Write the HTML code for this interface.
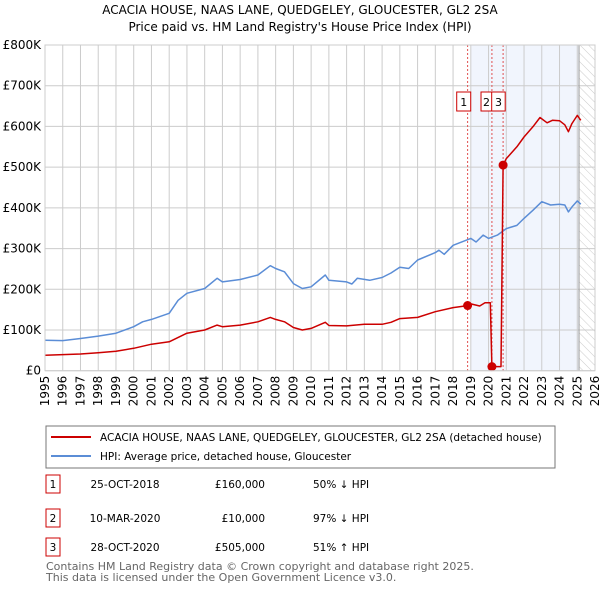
<!DOCTYPE html>
<html><head><meta charset="utf-8"><style>
body{margin:0;background:#fff;font-family:"Liberation Sans","DejaVu Sans",sans-serif;}
svg text{font-family:"DejaVu Sans","Liberation Sans",sans-serif;}
</style></head><body>
<svg id="c" width="600" height="590" xmlns="http://www.w3.org/2000/svg">
<text x="300" y="14" text-anchor="middle" font-size="12" fill="#000">ACACIA HOUSE, NAAS LANE, QUEDGELEY, GLOUCESTER, GL2 2SA</text>
<text x="300" y="31" text-anchor="middle" font-size="12" fill="#000">Price paid vs. HM Land Registry's House Price Index (HPI)</text>
<g id="plot"></g>
<g>
<rect x="46" y="426" width="509" height="42" fill="#fff" stroke="#777"/>
<line x1="51" y1="437" x2="91" y2="437" stroke="#cc0000" stroke-width="2"/>
<text x="100" y="441" font-size="10.5">ACACIA HOUSE, NAAS LANE, QUEDGELEY, GLOUCESTER, GL2 2SA (detached house)</text>
<line x1="51" y1="456" x2="91" y2="456" stroke="#5b8dd6" stroke-width="2"/>
<text x="100" y="460" font-size="10.5">HPI: Average price, detached house, Gloucester</text>
</g>
<g font-size="10.5">
<rect x="46" y="475" width="14" height="18" fill="#fff" stroke="#cc0000"/><text x="53" y="488" text-anchor="middle">1</text>
<text x="125" y="488" text-anchor="middle">25-OCT-2018</text><text x="265" y="488" text-anchor="end">£160,000</text><text x="313" y="488">50% ↓ HPI</text>
<rect x="46" y="509" width="14" height="18" fill="#fff" stroke="#cc0000"/><text x="53" y="522" text-anchor="middle">2</text>
<text x="125" y="522" text-anchor="middle">10-MAR-2020</text><text x="265" y="522" text-anchor="end">£10,000</text><text x="313" y="522">97% ↓ HPI</text>
<rect x="46" y="538" width="14" height="18" fill="#fff" stroke="#cc0000"/><text x="53" y="551" text-anchor="middle">3</text>
<text x="125" y="551" text-anchor="middle">28-OCT-2020</text><text x="265" y="551" text-anchor="end">£505,000</text><text x="313" y="551">51% ↑ HPI</text>
</g>
<text x="46" y="570" font-size="11" fill="#666">Contains HM Land Registry data © Crown copyright and database right 2025.</text>
<text x="46" y="581" font-size="11" fill="#666">This data is licensed under the Open Government Licence v3.0.</text>
</svg>
<script>
const yTicks=[0,100000,200000,300000,400000,500000,600000,700000,800000];
const yTickLabels=["£0","£100K","£200K","£300K","£400K","£500K","£600K","£700K","£800K"];
const xYears=[1995,1996,1997,1998,1999,2000,2001,2002,2003,2004,2005,2006,2007,2008,2009,2010,2011,2012,2013,2014,2015,2016,2017,2018,2019,2020,2021,2022,2023,2024,2025,2026];
const hpiT=[1995,1996,1997,1998,1999,2000,2000.5,2001,2002,2002.5,2003,2004,2004.7,2005,2006,2007,2007.7,2008,2008.5,2009,2009.5,2010,2010.8,2011,2012,2012.3,2012.6,2013.3,2014,2014.5,2015,2015.5,2016,2017,2017.2,2017.5,2018,2019,2019.3,2019.7,2020,2020.5,2021,2021.6,2022,2022.5,2023,2023.5,2024,2024.3,2024.5,2024.7,2025,2025.2];
const hpiV=[75,74,79,85,92,108,120,126,141,173,190,202,227,218,224,235,258,251,243,214,202,206,235,222,218,213,227,222,229,240,254,251,272,290,296,286,308,325,316,333,325,333,349,357,374,394,415,407,409,407,390,402,417,409];
const propT=[1995,1997,1998,1999,2000,2001,2002,2003,2004,2004.7,2005,2006,2007,2007.7,2008,2008.5,2009,2009.5,2010,2010.8,2011,2012,2013,2014,2014.5,2015,2016,2017,2018,2018.82,2019,2019.5,2019.8,2020.1,2020.19,2020.7,2020.82,2021,2021.6,2022,2022.5,2022.9,2023.3,2023.6,2024,2024.3,2024.5,2024.7,2025,2025.2];
const propV=[38,41,44,48,55,65,71,92,100,112,108,112,120,131,126,120,106,100,104,119,111,110,114,114,119,128,131,145,155,160,164,159,167,167,10,10,505,521,550,574,599,622,609,615,614,604,587,607,627,615];
const saleT=[2018.82,2020.19,2020.82];
const saleV=[160,10,505];
const saleLabels=["1","2","3"];
const NS="http://www.w3.org/2000/svg";
const L=45,R=595,T=45,B=370.7;
const xs=t=>L+(t-1995)*(R-L)/31;
const ys=v=>B-v*(B-T)/800000;
const g=document.getElementById('plot');
function mk(tag,attrs,parent){const e=document.createElementNS(NS,tag);for(const k in attrs)e.setAttribute(k,attrs[k]);(parent||g).appendChild(e);return e;}
let sh=mk('rect',{x:xs(2019),y:T,width:xs(2025.1)-xs(2019),height:B-T,fill:'#eef3fc',opacity:0.8});


const defs=mk('defs',{});
const pat=mk('pattern',{id:'hatch',width:6,height:6,patternUnits:'userSpaceOnUse',patternTransform:'rotate(-45)'},defs);
mk('line',{x1:0,y1:0,x2:0,y2:6,stroke:'#ccc','stroke-width':1},pat);
let hr=mk('rect',{x:xs(2025.1),y:T,width:R-xs(2025.1),height:B-T,fill:'url(#hatch)'});


yTicks.forEach((v,i)=>{
 let l=mk('line',{x1:L,x2:R,y1:ys(v),y2:ys(v),stroke:'#ccc'});
 
 
 let t=mk('text',{x:L-4,y:ys(v)+4,'text-anchor':'end','font-size':12,fill:'#000'});t.textContent=yTickLabels[i];
 
 
});
xYears.forEach(y=>{
 let l=mk('line',{x1:xs(y),x2:xs(y),y1:T,y2:B,stroke:'#ccc'});
 
 
 let t=mk('text',{x:0,y:0,'text-anchor':'end','font-size':12,fill:'#000',transform:`translate(${xs(y)+4},${B+5}) rotate(-90)`});t.textContent=y;
 
 
});
mk('line',{x1:xs(2025.1),x2:xs(2025.1),y1:T,y2:B,stroke:'#999'});
saleT.forEach((t,i)=>{
 let l=mk('line',{x1:xs(t),x2:xs(t),y1:T,y2:B,stroke:'#e05050','stroke-dasharray':'2,2','stroke-width':1});
 
 
});
function path(T_,V_,col,name){
 let d=T_.map((t,i)=>(i?'L':'M')+xs(t).toFixed(1)+','+ys(V_[i]*1000).toFixed(1)).join('');
 let p=mk('path',{d:d,fill:'none',stroke:col,'stroke-width':1.5,'stroke-linejoin':'round'});
 
 
}
path(hpiT,hpiV,'#5b8dd6','hpi-line');
path(propT,propV,'#cc0000','property-price-line');
saleT.forEach((t,i)=>{
 let c=mk('circle',{cx:xs(t),cy:ys(saleV[i]*1000),r:4.5,fill:'#cc0000'});
 
 
});
const boxOff=[-10.9,-10.9,-11.4];
const boxW=[14,11,13.5];
saleT.forEach((t,i)=>{
 const bx=xs(t)+boxOff[i];
 let b=mk('rect',{x:bx,y:92,width:boxW[i],height:19,fill:'#fff',stroke:'#cc0000'});
 
 
 let tx=mk('text',{x:bx+boxW[i]/2,y:106,'text-anchor':'middle','font-size':11});tx.textContent=saleLabels[i];
 
 
});
mk('rect',{x:L,y:T,width:R-L,height:B-T,fill:'none',stroke:'#ccc'});
</script>
</body></html>
